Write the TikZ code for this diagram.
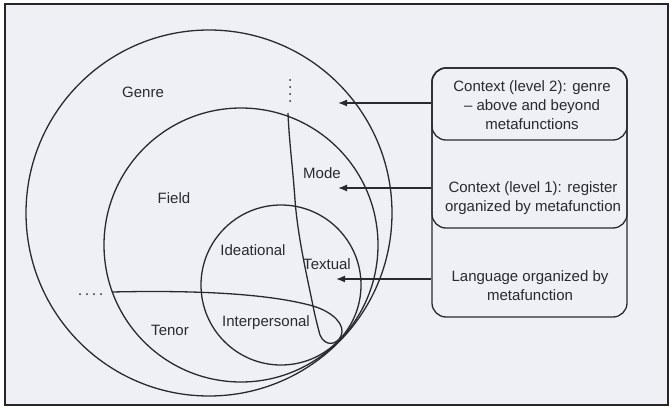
\documentclass[tikz,border=0pt]{standalone}
\usepackage{fontspec}
\setmainfont{Liberation Sans}
\usetikzlibrary{arrows.meta}
\definecolor{ink}{HTML}{2A2A2E}
\definecolor{paper}{HTML}{EEF0F6}
\begin{document}
\begin{tikzpicture}[x=1pt,y=-1pt,
  ln/.style={draw=ink, line width=1.3pt},
  lbl/.style={font=\fontsize{15}{19}\selectfont, text=ink, inner sep=0pt},
  boxtxt/.style={lbl, align=center},
  boxsty/.style={draw=ink, line width=1.3pt, rounded corners=14pt, minimum width=195pt, inner sep=0pt},
  arr/.style={draw=ink, line width=1.3pt, -{Latex[length=9pt,width=7pt]}},
  dotm/.style={fill=ink, circle, inner sep=0pt, minimum size=2pt}]
\useasboundingbox (0,0) rectangle (671,409);
% page
\fill[white] (0,0) rectangle (671,409);
\fill[paper] (5,4) rectangle (668,405);
\draw[line width=2pt, black!85] (5,4) rectangle (668,405);
% circles
\coordinate (cg) at (209,213);
\coordinate (cf) at (241,245);
\coordinate (cl) at (281,285);
\draw[ln] (cg) circle (183);
\draw[ln] (cf) circle (137);
\draw[ln] (cl) circle (80);
% dividing curve with loop
\coordinate (fl) at (112,292);
\coordinate (x) at (313,306);
\coordinate (ft) at (288,113);
\draw[ln] (fl) .. controls (200,290) and (270,294) .. (x)
  .. controls (333,312) and (346,325) .. (341,336)
  .. controls (337,345) and (325,347) .. (320,335)
  .. controls (318,328) and (315,316) .. (x)
  .. controls (309,285) and (298,240) .. (295,200)
  .. controls (293,170) and (289,140) .. (ft);
% dots
\foreach \i/\yy in {1/80,2/87,3/94,4/101}{\node[dotm] (vd\i) at (290,\yy) {};}
\foreach \i/\xx in {1/80,2/87,3/94,4/101}{\node[dotm] (hd\i) at (\xx,294) {};}
% labels
\node[lbl] (genre) at (143,92) {Genre};
\node[lbl] (field) at (174,198) {Field};
\node[lbl] (mode) at (322,173) {Mode};
\node[lbl] (ideat) at (253,250) {Ideational};
\node[lbl] (textual) at (327,264) {Textual};
\node[lbl] (interp) at (266,323) {Interpersonal};
\node[lbl] (tenor) at (170,330) {Tenor};
% boxes
\node[boxsty, minimum height=249pt] (outerbox) at (529.5,192.5) {};
\node[boxsty, minimum height=160pt] (midbox) at (529.5,148) {};
\node[boxsty, minimum height=72pt] (ctx2) at (529.5,104) {};
\node[boxtxt] (t2) at (532,105) {Context (level 2): genre\\– above and beyond\\metafunctions};
\node[boxtxt] (t1) at (533,198) {Context (level 1): register\\organized by metafunction};
\node[boxtxt] (t0) at (530,286) {Language organized by\\metafunction};
% arrows
\coordinate (a2) at (338,103);
\coordinate (a1) at (338,188);
\coordinate (a0) at (336,279);
\draw[arr] (a2 -| outerbox.west) -- (a2);
\draw[arr] (a1 -| outerbox.west) -- (a1);
\draw[arr] (a0 -| outerbox.west) -- (a0);
\end{tikzpicture}
\end{document}
